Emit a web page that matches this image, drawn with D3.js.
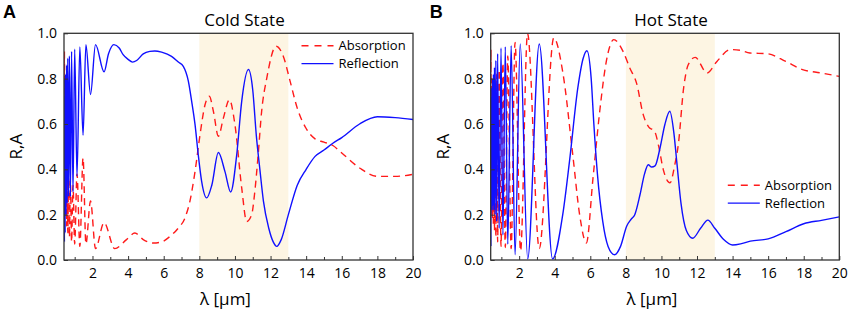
<!DOCTYPE html>
<html><head><meta charset="utf-8">
<script src="https://cdn.jsdelivr.net/npm/d3@7"></script>
<style>
body{margin:0;background:#fff;}
svg{display:block;font-family:"Open Sans",sans-serif;}
</style></head>
<body><svg id="c" width="851" height="312"></svg>
<script>
// ---- data (wavelength in µm, value) ----
const xTicks = [2,4,6,8,10,12,14,16,18,20];
const xMinor = [1,3,5,7,9,11,13,15,17,19];
const yTicks = [0,0.2,0.4,0.6,0.8,1.0];
const band = [8,13];
const seriesNames = ["Absorption","Reflection"];

const coldR = [[0.40,0.30],[0.405,0.72],[0.423,0.08],[0.442,0.80],[0.464,0.12],[0.488,0.82],[0.514,0.20],[0.543,0.86],[0.576,0.25],[0.613,0.89],[0.656,0.28],[0.704,0.90],[0.76,0.28],[0.826,0.92],[0.905,0.30],[1.0,0.93],[1.13,0.37],[1.29,0.94],[1.47,0.55],[1.63,0.95],[1.89,0.73],[2.17,0.95],[2.65,0.83],[2.9,0.91],[3.2,0.95],[3.5,0.935],[3.72,0.906],[4.0,0.885],[4.25,0.873],[4.48,0.88],[4.85,0.909],[5.22,0.92],[5.5,0.922],[5.88,0.917],[6.2,0.908],[6.44,0.898],[6.82,0.873],[7.1,0.854],[7.38,0.79],[7.57,0.70],[7.76,0.597],[7.94,0.464],[8.13,0.347],[8.41,0.274],[8.7,0.33],[9.07,0.474],[9.44,0.39],[9.76,0.30],[10.1,0.464],[10.38,0.70],[10.76,0.84],[11.0,0.75],[11.2,0.55],[11.4,0.40],[11.6,0.26],[11.9,0.14],[12.15,0.08],[12.35,0.06],[12.6,0.09],[13.0,0.20],[13.5,0.33],[14.0,0.40],[14.5,0.457],[15.0,0.485],[15.5,0.515],[16.0,0.54],[17.0,0.60],[18.0,0.632],[19.0,0.628],[20.0,0.62]];

const coldA = [[0.40,0.55],[0.41,0.86],[0.423,0.92],[0.442,0.30],[0.464,0.60],[0.488,0.20],[0.514,0.42],[0.543,0.15],[0.576,0.38],[0.613,0.12],[0.656,0.36],[0.704,0.10],[0.76,0.35],[0.826,0.08],[0.905,0.33],[1.0,0.07],[1.13,0.38],[1.29,0.06],[1.47,0.45],[1.63,0.07],[1.89,0.26],[2.17,0.05],[2.65,0.165],[3.25,0.05],[3.91,0.09],[4.38,0.119],[4.85,0.09],[5.41,0.075],[5.88,0.08],[6.35,0.104],[6.82,0.141],[7.19,0.185],[7.47,0.259],[7.76,0.391],[8.04,0.553],[8.32,0.685],[8.56,0.722],[8.79,0.656],[9.07,0.546],[9.35,0.626],[9.69,0.707],[10.0,0.597],[10.38,0.318],[10.66,0.17],[10.94,0.20],[11.1,0.29],[11.3,0.46],[11.5,0.656],[11.79,0.803],[12.31,0.943],[12.72,0.898],[13.1,0.788],[13.5,0.67],[14.0,0.58],[14.5,0.534],[15.0,0.52],[15.5,0.505],[16.0,0.472],[17.0,0.406],[18.0,0.369],[19.0,0.369],[20.0,0.378]];

const hotR = [[0.40,0.62],[0.412,0.06],[0.426,0.72],[0.442,0.25],[0.461,0.76],[0.481,0.22],[0.503,0.80],[0.526,0.24],[0.552,0.82],[0.581,0.22],[0.613,0.85],[0.649,0.20],[0.69,0.88],[0.736,0.17],[0.79,0.91],[0.875,0.14],[0.98,0.935],[1.087,0.11],[1.22,0.94],[1.36,0.07],[1.55,0.945],[1.77,0.023],[2.06,0.953],[2.48,0.005],[3.13,0.953],[3.88,0.005],[4.45,0.20],[4.83,0.435],[5.3,0.76],[5.6,0.89],[5.81,0.923],[6.05,0.80],[6.2,0.60],[6.4,0.38],[6.7,0.17],[7.0,0.06],[7.37,0.023],[7.7,0.06],[8.05,0.15],[8.3,0.18],[8.5,0.20],[8.8,0.29],[9.05,0.38],[9.26,0.42],[9.45,0.41],[9.64,0.415],[9.92,0.494],[10.2,0.60],[10.47,0.656],[10.7,0.56],[10.86,0.435],[11.1,0.25],[11.4,0.13],[11.76,0.096],[12.2,0.14],[12.61,0.176],[13.0,0.14],[13.5,0.09],[14.0,0.066],[14.5,0.072],[15.0,0.083],[16.0,0.093],[17.0,0.125],[18.0,0.16],[19.0,0.175],[20.0,0.19]];

const hotA = [[0.40,0.35],[0.412,0.93],[0.426,0.25],[0.442,0.80],[0.461,0.20],[0.481,0.75],[0.503,0.18],[0.526,0.75],[0.552,0.15],[0.581,0.78],[0.613,0.13],[0.649,0.80],[0.69,0.10],[0.736,0.82],[0.79,0.08],[0.875,0.84],[0.98,0.06],[1.087,0.87],[1.22,0.055],[1.36,0.90],[1.55,0.05],[1.77,0.96],[2.08,0.04],[2.47,1.0],[3.13,0.05],[3.95,0.98],[4.45,0.83],[5.02,0.46],[5.4,0.20],[5.78,0.075],[6.15,0.36],[6.53,0.656],[6.9,0.876],[7.32,0.972],[7.84,0.92],[8.22,0.847],[8.6,0.78],[8.98,0.64],[9.3,0.585],[9.6,0.57],[9.85,0.50],[10.1,0.40],[10.48,0.34],[10.75,0.42],[10.95,0.51],[11.25,0.76],[11.5,0.86],[11.9,0.894],[12.56,0.825],[13.12,0.876],[13.88,0.928],[14.44,0.925],[14.97,0.913],[15.95,0.91],[16.99,0.876],[17.93,0.84],[18.97,0.825],[20.0,0.81]];

// ---- drawing ----
const svg = d3.select("#c");
const panels = [
  {id:"A", title:"Cold State", x0:64, x1:413, R:coldR, A:coldA, legY:45.8},
  {id:"B", title:"Hot State", x0:490.7, x1:839.3, R:hotR, A:hotA, legY:185.3}
];
const plotTop = 33.3, plotBottom = 260;
const y = d3.scaleLinear().domain([0,1]).range([plotBottom, plotTop]);

panels.forEach((p,i) => {
  const x = d3.scaleLinear().domain([0.4,20]).range([p.x0, p.x1]);
  const g = svg.append("g");
  const cid = "clip"+i;
  svg.append("defs").append("clipPath").attr("id",cid)
    .append("rect").attr("x",p.x0).attr("y",plotTop).attr("width",p.x1-p.x0).attr("height",plotBottom-plotTop);

  g.append("rect").attr("x",x(band[0])).attr("y",plotTop)
    .attr("width",x(band[1])-x(band[0])).attr("height",plotBottom-plotTop)
    .attr("fill","#fdf5e3");

  const line = d3.line().x(d=>x(d[0])).y(d=>y(d[1])).curve(d3.curveMonotoneX);
  const lg = g.append("g").attr("clip-path",`url(#${cid})`);
  lg.append("path").datum(p.A).attr("d",line).attr("fill","none")
    .attr("stroke","#ff1a1a").attr("stroke-width",1.4).attr("stroke-dasharray","7,5");
  lg.append("path").datum(p.R).attr("d",line).attr("fill","none")
    .attr("stroke","#1010ff").attr("stroke-width",1.4);

  // axes
  const xa = g.append("g").attr("transform",`translate(0,${plotBottom})`)
    .call(d3.axisBottom(x).tickValues(xTicks).tickSize(-4).tickPadding(8).tickFormat(d3.format("d")));
  g.append("g").attr("transform",`translate(0,${plotBottom})`)
    .call(d3.axisBottom(x).tickValues(xMinor).tickSize(-3).tickFormat(""))
    .select(".domain").remove();
  const ya = g.append("g").attr("transform",`translate(${p.x0},0)`)
    .call(d3.axisLeft(y).tickValues(yTicks).tickSize(-4).tickPadding(7).tickFormat(d3.format(".1f")));
  [xa,ya].forEach(a=>{a.select(".domain").remove();
    a.selectAll("text").attr("font-size",14).attr("fill","#000").attr("font-family","Open Sans");});
  g.selectAll(".tick line").attr("stroke","#333");

  g.append("rect").attr("x",p.x0).attr("y",plotTop).attr("width",p.x1-p.x0).attr("height",plotBottom-plotTop)
    .attr("fill","none").attr("stroke","#333").attr("stroke-width",1.3);

  const cx = (p.x0+p.x1)/2;
  g.append("text").attr("x",cx+6).attr("y",26).attr("text-anchor","middle")
    .attr("font-size",17).text(p.title);
  g.append("text").attr("x",cx-13).attr("y",305).attr("text-anchor","middle")
    .attr("font-size",17).text("λ [μm]");
  g.append("text").attr("transform",`translate(${p.x0-48},${(plotTop+plotBottom)/2}) rotate(-90)`)
    .attr("text-anchor","middle").attr("dy","0.35em").attr("font-size",17).text("R,A");
  g.append("text").attr("x",p.x0-61).attr("y",18).attr("font-size",18)
    .attr("font-weight","bold").attr("font-family","Liberation Sans, Arial, sans-serif").text(p.id);

  // legend
  const lx = p.x1-111.5, ly = p.legY;
  const leg = g.append("g");
  seriesNames.forEach((n,k)=>{
    const yy = ly + k*17.8;
    leg.append("line").attr("x1",lx).attr("x2",lx+32).attr("y1",yy).attr("y2",yy)
      .attr("stroke",k===0?"#ff1a1a":"#1010ff").attr("stroke-width",1.4)
      .attr("stroke-dasharray",k===0?"7,6":null);
    leg.append("text").attr("x",lx+37).attr("y",yy).attr("dy","0.35em")
      .attr("font-size",13).text(n);
  });
});
</script></body></html>
